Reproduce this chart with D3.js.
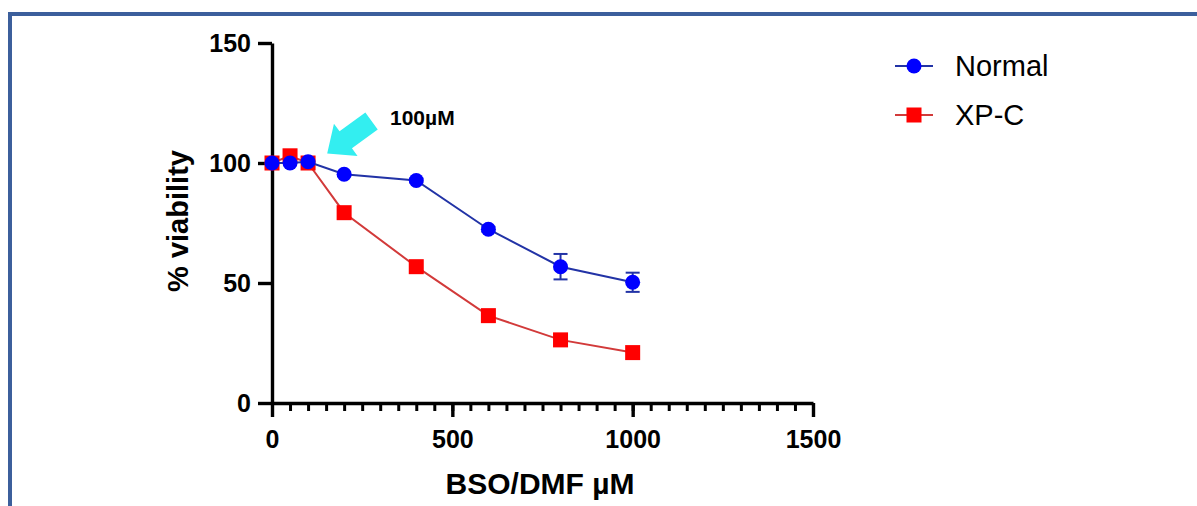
<!DOCTYPE html>
<html>
<head>
<meta charset="utf-8">
<script src="https://cdn.jsdelivr.net/npm/d3@7"></script>
<style>
  html, body { margin: 0; padding: 0; background: #fff; }
  svg { display: block; }
  text { font-family: "Liberation Sans", Arial, sans-serif; }
</style>
</head>
<body>
<svg id="chart" width="1197" height="506"></svg>
<script>
// ---- data ----
const doses = [0, 50, 100, 200, 400, 600, 800, 1000];
const normalValues = [100, 100, 100.5, 95.3, 92.7, 72.4, 56.8, 50.3];
const normalErrors = [0.5, 0.5, 0.5, 0.8, 0.8, 1.0, 5.3, 4.0];
const xpcValues = [100, 103, 100, 79.3, 56.8, 36.4, 26.3, 21.0];
const xTickValues = [0, 500, 1000, 1500];
const xMinorTickValues = d3.range(0, 1501, 50);
const yTickValues = [0, 50, 100, 150];
const seriesNames = ["Normal", "XP-C"];
const annotationText = "100µM";
const arrowTip = [153, 104];   // data coords
const arrowTail = [276, 117.5];  // data coords

// ---- layout ----
const svg = d3.select("#chart");
const x = d3.scaleLinear().domain([0, 1500]).range([272, 813]);
const y = d3.scaleLinear().domain([0, 150]).range([403, 43]);

// frame
svg.append("rect")
  .attr("x", 10).attr("y", 14)
  .attr("width", 1200).attr("height", 520)
  .attr("fill", "none").attr("stroke", "#3c5f9c").attr("stroke-width", 4);

// axes
const xAxisMinor = d3.axisBottom(x).tickValues(xMinorTickValues).tickSize(8).tickSizeOuter(0).tickFormat("");
const xAxis = d3.axisBottom(x).tickValues(xTickValues).tickSize(14).tickSizeOuter(0).tickPadding(13).tickFormat(d3.format("d"));
const yAxis = d3.axisLeft(y).tickValues(yTickValues).tickSize(14).tickSizeOuter(0).tickPadding(7).tickFormat(d3.format("d"));

const gxm = svg.append("g").attr("transform", `translate(0,${y(0)})`).call(xAxisMinor);
gxm.select(".domain").remove();
gxm.selectAll(".tick line").attr("stroke", "#000").attr("stroke-width", 3);

const gx = svg.append("g").attr("transform", `translate(0,${y(0)})`).call(xAxis);
gx.select(".domain").attr("stroke", "#000").attr("stroke-width", 3.4);
gx.selectAll(".tick line").attr("stroke", "#000").attr("stroke-width", 3.4);
gx.selectAll(".tick text").attr("font-size", 25).attr("font-weight", "bold").attr("fill", "#000");

const gy = svg.append("g").attr("transform", `translate(${x(0)},0)`).call(yAxis);
gy.select(".domain").attr("stroke", "#000").attr("stroke-width", 3.4);
gy.selectAll(".tick line").attr("stroke", "#000").attr("stroke-width", 3.4);
gy.selectAll(".tick text").attr("font-size", 25).attr("font-weight", "bold").attr("fill", "#000");

// axis titles
svg.append("text")
  .attr("x", 540).attr("y", 494)
  .attr("text-anchor", "middle")
  .attr("font-size", 30).attr("font-weight", "bold").attr("fill", "#000")
  .text("BSO/DMF µM");
svg.append("text")
  .attr("transform", `translate(188,221) rotate(-90)`)
  .attr("text-anchor", "middle")
  .attr("font-size", 29).attr("font-weight", "bold").attr("fill", "#000")
  .text("% viability");

// lines
const redLine = "#d23a3a", redFill = "#ff0000";
const blueLine = "#2233a6", blueFill = "#0000ff";
const line = d3.line().x(d => x(d[0])).y(d => y(d[1]));
const xpcData = doses.map((d, i) => [d, xpcValues[i]]);
const normalData = doses.map((d, i) => [d, normalValues[i], normalErrors[i]]);

svg.append("path").datum(xpcData).attr("d", line)
  .attr("fill", "none").attr("stroke", redLine).attr("stroke-width", 2);
svg.append("g").selectAll("rect").data(xpcData).join("rect")
  .attr("x", d => x(d[0]) - 7.5).attr("y", d => y(d[1]) - 7.5)
  .attr("width", 15).attr("height", 15)
  .attr("fill", redFill);

svg.append("path").datum(normalData).attr("d", line)
  .attr("fill", "none").attr("stroke", blueLine).attr("stroke-width", 2);
const eb = svg.append("g").attr("stroke", blueLine).attr("stroke-width", 2);
normalData.forEach(d => {
  const cx = x(d[0]), t = y(d[1] + d[2]), b = y(d[1] - d[2]);
  eb.append("line").attr("x1", cx).attr("x2", cx).attr("y1", t).attr("y2", b);
  eb.append("line").attr("x1", cx - 7).attr("x2", cx + 7).attr("y1", t).attr("y2", t);
  eb.append("line").attr("x1", cx - 7).attr("x2", cx + 7).attr("y1", b).attr("y2", b);
});
svg.append("g").selectAll("circle").data(normalData).join("circle")
  .attr("cx", d => x(d[0])).attr("cy", d => y(d[1])).attr("r", 7.5)
  .attr("fill", blueFill);

// annotation arrow
(function () {
  const tx = x(arrowTip[0]), ty = y(arrowTip[1]);
  const sx = x(arrowTail[0]), sy = y(arrowTail[1]);
  const dx = tx - sx, dy = ty - sy, len = Math.hypot(dx, dy);
  const ux = dx / len, uy = dy / len, px = -uy, py = ux;
  const headLen = 23, headHalf = 20, shaftHalf = 10.5;
  const bx = tx - ux * headLen, by = ty - uy * headLen;
  const pts = [
    [sx + px * shaftHalf, sy + py * shaftHalf],
    [bx + px * shaftHalf, by + py * shaftHalf],
    [bx + px * headHalf, by + py * headHalf],
    [tx, ty],
    [bx - px * headHalf, by - py * headHalf],
    [bx - px * shaftHalf, by - py * shaftHalf],
    [sx - px * shaftHalf, sy - py * shaftHalf]
  ];
  svg.append("polygon").attr("points", pts.map(p => p.join(",")).join(" "))
    .attr("fill", "#33eef0");
})();
svg.append("text")
  .attr("x", 390).attr("y", 125)
  .attr("font-size", 21).attr("font-weight", "bold").attr("fill", "#000")
  .text(annotationText);

// legend
const legend = [
  { name: seriesNames[0], line: blueLine, fill: blueFill, shape: "circle", y: 66 },
  { name: seriesNames[1], line: redLine, fill: redFill, shape: "square", y: 115 }
];
legend.forEach(l => {
  const g = svg.append("g");
  g.append("line").attr("x1", 895).attr("x2", 933).attr("y1", l.y).attr("y2", l.y)
    .attr("stroke", l.line).attr("stroke-width", 2);
  if (l.shape === "circle") {
    g.append("circle").attr("cx", 914).attr("cy", l.y).attr("r", 7.5).attr("fill", l.fill);
  } else {
    g.append("rect").attr("x", 906.5).attr("y", l.y - 7.5).attr("width", 15).attr("height", 15).attr("fill", l.fill);
  }
  g.append("text").attr("x", 955).attr("y", l.y + 10)
    .attr("font-size", 29).attr("fill", "#000").text(l.name);
});
</script>
</body>
</html>
